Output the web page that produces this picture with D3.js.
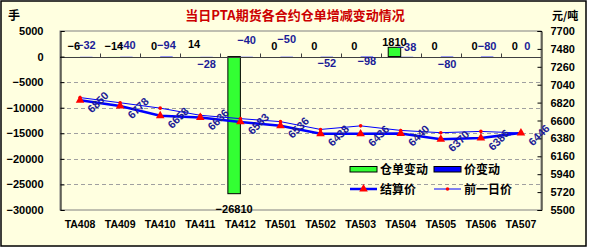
<!DOCTYPE html>
<html><head><meta charset="utf-8">
<script src="https://cdn.jsdelivr.net/npm/d3@7"></script>
<style>
html,body{margin:0;padding:0;background:#fff;}
svg text{font-family:"Liberation Sans",Arial,sans-serif;}
.cjk{font-family:"Noto Sans CJK SC","Noto Sans CJK JP",sans-serif !important;}
</style></head>
<body>
<svg id="chart" width="591" height="250"></svg>
<script>
const categories = ["TA408","TA409","TA410","TA411","TA412","TA501","TA502","TA503","TA504","TA505","TA506","TA507"];
const receiptChange = [-6,-14,0,14,-26810,0,0,0,1810,0,0,0];
const priceChange = [-32,-40,-94,-28,-40,-50,-52,-98,-38,-80,-80,0];
const settlePrice = [6850,6778,6658,6636,6583,6536,6438,6436,6440,6370,6386,6446];
const prevPrice = [6882,6818,6752,6664,6623,6586,6490,6534,6478,6450,6466,6446];
const leftTicks = [5000,0,-5000,-10000,-15000,-20000,-25000,-30000];
const rightTicks = [7700,7480,7260,7040,6820,6600,6380,6160,5940,5720,5500];
const seriesNames = ["仓单变动","价变动","结算价","前一日价"];
// label placement (layout only)
const receiptLabelDy = [-7,-7,-7,-8,19,-7,-7,-7,-1,-7,-7,-7];
const priceLabelDy = [-8,-8,-8,11,-13,-14,10,8,-6,11,-7,-7];

const svg = d3.select("#chart");
const bg = "#FFFFE0";
svg.append("rect").attr("x",1).attr("y",1).attr("width",585).attr("height",245)
  .attr("fill",bg).attr("stroke","#000").attr("stroke-width",1.5);

const L = 60, R = 541, T = 31, B = 210;
const x = d3.scaleBand().domain(categories).range([L,R]).padding(0);
const yL = d3.scaleLinear().domain([-30000,5000]).range([B,T]);
const yR = d3.scaleLinear().domain([5500,7700]).range([B,T]);
const barW = 12.5;
const x1 = d3.scaleBand().domain(["r","p"]).range([x.bandwidth()/2-barW, x.bandwidth()/2+barW]);

// plot area
svg.append("rect").attr("x",L).attr("y",T).attr("width",R-L).attr("height",B-T)
  .attr("fill",bg).attr("stroke","#808080").attr("stroke-width",1);

// grid
svg.append("g").selectAll("line").data(leftTicks.filter(t=>t<0 && t>-30000)).join("line")
  .attr("x1",L).attr("x2",R).attr("y1",d=>Math.round(yL(d))+0.5).attr("y2",d=>Math.round(yL(d))+0.5)
  .attr("stroke","#A0A0A0").attr("stroke-dasharray","4,3");

// bars
const bars = svg.append("g");
bars.selectAll("rect.r").data(categories).join("rect")
  .attr("x",(c)=>x(c)+x1("r")).attr("width",x1.bandwidth())
  .attr("y",(c,i)=>yL(Math.max(0,receiptChange[i])))
  .attr("height",(c,i)=>Math.abs(yL(receiptChange[i])-yL(0)))
  .attr("fill","#33FF33").attr("stroke","#000").attr("stroke-width",(c,i)=>Math.abs(receiptChange[i])>100?1:0);
bars.selectAll("rect.p").data(categories).join("rect")
  .attr("x",(c)=>x(c)+x1("p")).attr("width",x1.bandwidth())
  .attr("y",(c,i)=>yL(Math.max(0,priceChange[i])))
  .attr("height",(c,i)=>Math.abs(yL(priceChange[i])-yL(0)))
  .attr("fill","#0000FF");

// category axis at zero
const z = Math.round(yL(0))+0.5;
svg.append("line").attr("x1",L).attr("x2",R).attr("y1",z).attr("y2",z).attr("stroke","#404040");
svg.append("g").selectAll("line").data(categories.slice(1)).join("line")
  .attr("x1",c=>Math.round(x(c))+0.5).attr("x2",c=>Math.round(x(c))+0.5)
  .attr("y1",z).attr("y2",z-4).attr("stroke","#404040");

// axes
const fmt = d3.format("d");
const minus = d=>fmt(d).replace("-","−");
const ga = svg.append("g").attr("transform",`translate(${L+0.5},0)`)
  .call(d3.axisLeft(yL).tickValues(leftTicks).tickSize(-4).tickPadding(17).tickFormat(minus));
ga.select(".domain").attr("stroke","#000");
ga.selectAll("text").attr("font-size",11).attr("font-weight","bold").attr("fill","#000");
const gr = svg.append("g").attr("transform",`translate(${R+0.5},0)`)
  .call(d3.axisRight(yR).tickValues(rightTicks).tickSize(-4).tickPadding(9).tickFormat(fmt));
gr.select(".domain").attr("stroke","#000");
gr.selectAll("text").attr("font-size",11).attr("font-weight","bold").attr("fill","#000");

// x labels
svg.append("g").selectAll("text").data(categories).join("text")
  .attr("x",c=>x(c)+x.bandwidth()/2).attr("y",228).attr("text-anchor","middle")
  .attr("font-size",10.5).attr("font-weight","bold").text(c=>c);

// lines
const cx = c=>x(c)+x.bandwidth()/2;
const lineS = d3.line().x((d,i)=>cx(categories[i])).y(d=>yR(d));
svg.append("path").attr("d",lineS(prevPrice)).attr("fill","none").attr("stroke","#0000FF").attr("stroke-width",1);
svg.append("path").attr("d",lineS(settlePrice)).attr("fill","none").attr("stroke","#0000FF").attr("stroke-width",2.5);
const tri = d3.symbol().type(d3.symbolTriangle).size(32);
svg.append("g").selectAll("path").data(settlePrice).join("path")
  .attr("d",tri).attr("transform",(d,i)=>`translate(${cx(categories[i])},${yR(d)})`).attr("fill","#FF0000");
svg.append("g").selectAll("circle").data(prevPrice).join("circle")
  .attr("cx",(d,i)=>cx(categories[i])).attr("cy",d=>yR(d)).attr("r",1.8).attr("fill","#FF0000");

// rotated settlement labels
const navy = "#1c1c96";
svg.append("g").selectAll("text").data(settlePrice).join("text")
  .attr("transform",(d,i)=>`translate(${cx(categories[i])+18},${yR(d)+2}) rotate(-45)`)
  .attr("text-anchor","middle").attr("dy","0.35em")
  .attr("font-size",11).attr("font-weight","bold").attr("fill",navy).text(d=>d);

// bar labels
svg.append("g").selectAll("text").data(priceChange).join("text")
  .attr("x",(d,i)=>x(categories[i])+x1("p")+x1.bandwidth()/2)
  .attr("y",(d,i)=>yL(0)+priceLabelDy[i]).attr("text-anchor","middle")
  .attr("font-size",11).attr("font-weight","bold").attr("fill",navy).text(d=>String(d).replace("-","−"));
svg.append("g").selectAll("text").data(receiptChange).join("text")
  .attr("x",(d,i)=>x(categories[i])+x1("r")+x1.bandwidth()/2)
  .attr("y",(d,i)=>yL(d)+receiptLabelDy[i]).attr("text-anchor","middle")
  .attr("font-size",11).attr("font-weight","bold").attr("fill","#000").text(d=>String(d).replace("-","−"));

// title and units
svg.append("text").attr("class","cjk").attr("x",295).attr("y",20).attr("text-anchor","middle")
  .attr("font-size",13).attr("font-weight","bold").attr("fill","#CC0000").text("当日PTA期货各合约仓单增减变动情况");
svg.append("text").attr("class","cjk").attr("x",8).attr("y",20).attr("font-size",12).attr("font-weight","bold").text("手");
svg.append("text").attr("class","cjk").attr("x",552).attr("y",20).attr("font-size",11).attr("font-weight","bold").text("元/吨");

// legend
const lg = svg.append("g");
const lx = [350,434], ly = [169,189];
lg.append("rect").attr("x",lx[0]).attr("y",ly[0]-2.5).attr("width",27).attr("height",5.5).attr("fill","#33FF33").attr("stroke","#000");
lg.append("rect").attr("x",lx[1]).attr("y",ly[0]-2.5).attr("width",27).attr("height",5.5).attr("fill","#0000FF").attr("stroke","#000");
lg.append("line").attr("x1",lx[0]).attr("x2",lx[0]+27).attr("y1",ly[1]).attr("y2",ly[1]).attr("stroke","#0000FF").attr("stroke-width",2.5);
lg.append("path").attr("d",tri).attr("transform",`translate(${lx[0]+13.5},${ly[1]})`).attr("fill","#FF0000");
lg.append("line").attr("x1",lx[1]).attr("x2",lx[1]+27).attr("y1",ly[1]).attr("y2",ly[1]).attr("stroke","#0000FF").attr("stroke-width",1);
lg.append("circle").attr("cx",lx[1]+13.5).attr("cy",ly[1]).attr("r",1.8).attr("fill","#FF0000");
[[0,0],[1,0],[0,1],[1,1]].forEach(([c,r])=>{
  lg.append("text").attr("class","cjk").attr("x",lx[c]+30).attr("y",ly[r]+4.5)
    .attr("font-size",12).attr("font-weight","bold").text(seriesNames[r*2+c]);
});
</script>
</body></html>
